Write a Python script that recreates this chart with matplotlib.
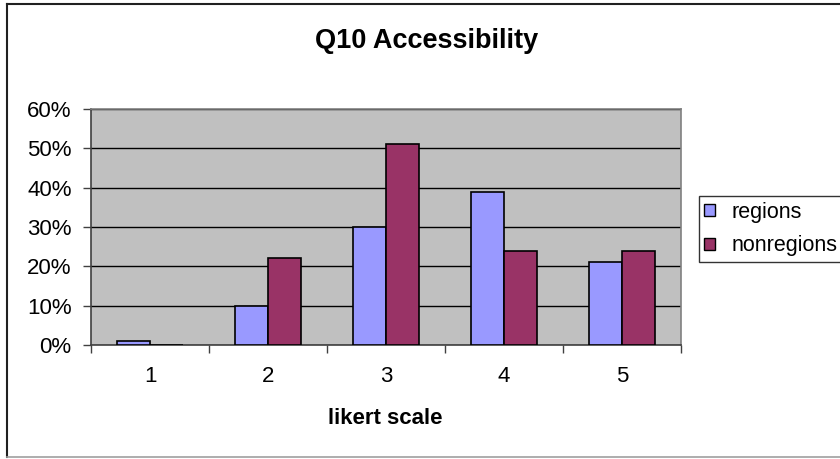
import matplotlib
matplotlib.use("Agg")
import matplotlib.pyplot as plt
from matplotlib.lines import Line2D
from matplotlib.patches import Patch
import numpy as np

plt.rcParams['font.family'] = ['Liberation Sans', 'DejaVu Sans']

categories = ["1", "2", "3", "4", "5"]
regions = [1, 10, 30, 39, 21]
nonregions = [0, 22, 51, 24, 24]
series_names = ["regions", "nonregions"]
yticks = [0, 10, 20, 30, 40, 50, 60]
ytick_labels = ["0%", "10%", "20%", "30%", "40%", "50%", "60%"]

W, H = 840, 459
fig = plt.figure(figsize=(W/100, H/100), dpi=100)
fig.patch.set_facecolor("white")

ax = fig.add_axes([91/W, 1-345/H, 590/W, 236/H])
ax.set_facecolor("#C0C0C0")

x = np.arange(len(categories))
bw = 0.28
c1, c2 = "#9999FF", "#993366"
ax.bar(x - bw/2, regions, bw, color=c1, edgecolor="black", linewidth=1.2, zorder=3)
ax.bar(x + bw/2, nonregions, bw, color=c2, edgecolor="black", linewidth=1.2, zorder=3)

ax.set_xlim(-0.5, len(categories)-0.5)
ax.set_ylim(0, 60)
ax.set_yticks(yticks)
ax.set_yticklabels(ytick_labels, fontsize=16)
ax.yaxis.grid(True, color="black", linewidth=1, zorder=1)
ax.set_axisbelow(True)

ax.set_xticks(x)
ax.set_xticklabels(categories, fontsize=16)
ax.tick_params(axis='x', length=0, pad=15)
ax.set_xticks(np.arange(-0.5, len(categories)), minor=True)
ax.tick_params(axis='x', which='minor', length=5.5, width=1, color="#404040", direction='out')
ax.tick_params(axis='y', length=6, width=1, color="#404040", direction='out', pad=8)

for s in ["top", "right"]:
    ax.spines[s].set_color("#808080")
    ax.spines[s].set_linewidth(1.2)
for s in ["left", "bottom"]:
    ax.spines[s].set_color("#404040")
    ax.spines[s].set_linewidth(1.2)

fig.text(427/W, 1-41/H, "Q10 Accessibility", ha="center", va="center",
         fontsize=19.5, fontweight="bold")
fig.text(385/W, 1-418/H, "likert scale", ha="center", va="center",
         fontsize=16, fontweight="bold")

handles = [Patch(facecolor=c1, edgecolor="black", linewidth=1),
           Patch(facecolor=c2, edgecolor="black", linewidth=1)]
leg = fig.legend(handles, series_names, loc="center left",
                 bbox_to_anchor=(699/W, 1-229/H), fontsize=15.5,
                 frameon=True, fancybox=False, handlelength=0.47, handleheight=0.47,
                 handletextpad=0.8, borderpad=0.25, labelspacing=0.6, borderaxespad=0)
leg.get_frame().set_edgecolor("black")
leg.get_frame().set_linewidth(1)

# outer chart border
fig.add_artist(Line2D([7/W, 7/W], [1-4/H, 1-457/H], color="#202020", linewidth=1.5))
fig.add_artist(Line2D([7/W, 1], [1-4/H, 1-4/H], color="#202020", linewidth=1.5))
fig.add_artist(Line2D([7/W, 1], [1-457/H, 1-457/H], color="#A0A0A0", linewidth=1.2))

fig.savefig("out.png", dpi=100)
